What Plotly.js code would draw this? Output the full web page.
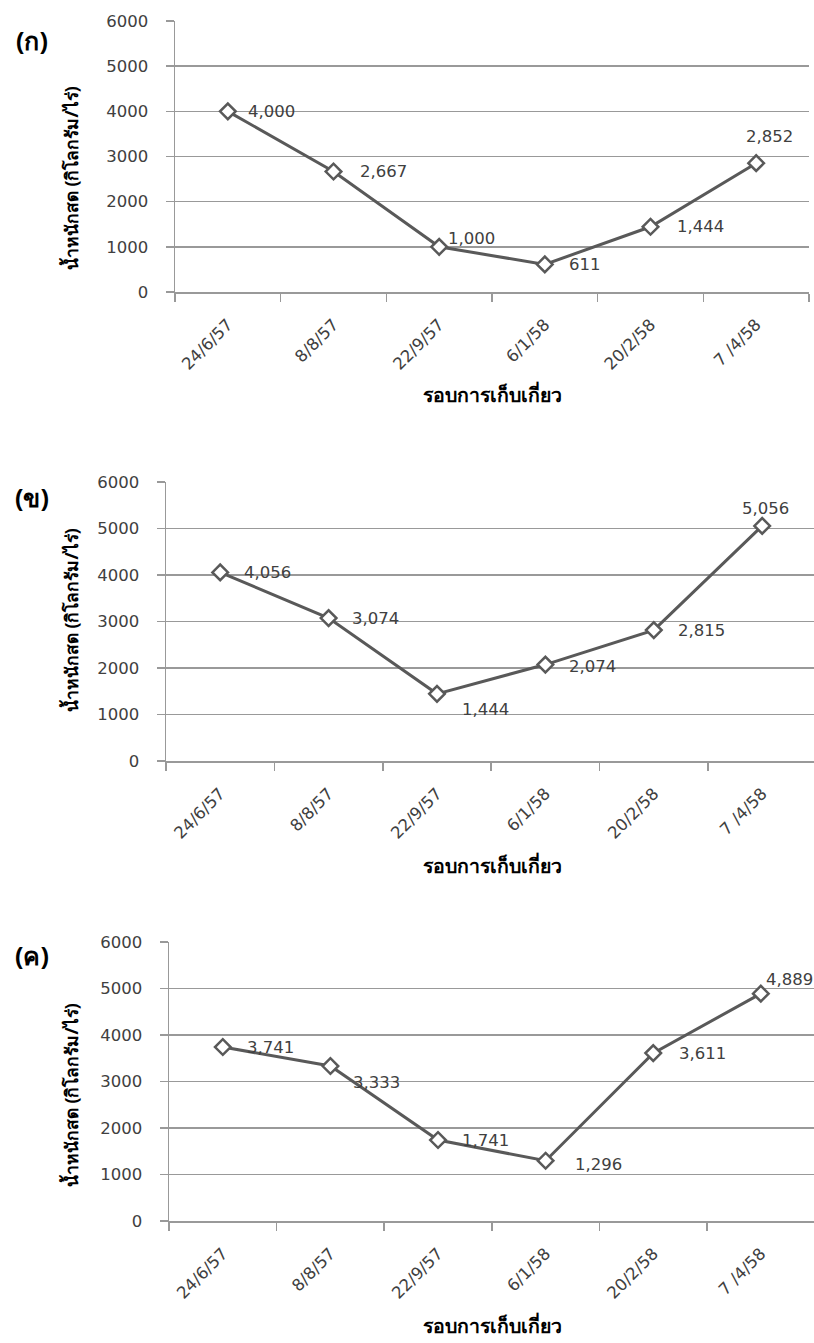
<!DOCTYPE html>
<html><head><meta charset="utf-8">
<script src="https://cdn.plot.ly/plotly-3.0.1.min.js"></script>
<style>html,body{margin:0;padding:0;background:#fff}</style>
</head><body><div id="chart" style="width:814px;height:1343px"></div>
<script>
const categories = ["24/6/57", "8/8/57", "22/9/57", "6/1/58", "20/2/58", "7 /4/58"];
const seriesA = [4000, 2667, 1000, 611, 1444, 2852];
const seriesB = [4056, 3074, 1444, 2074, 2815, 5056];
const seriesC = [3741, 3333, 1741, 1296, 3611, 4889];
const panelLabels = ["(ก)", "(ข)", "(ค)"];
const yTitleText = "น้ำหนักสด (กิโลกรัม/ไร่)";
const xTitleText = "รอบการเก็บเกี่ยว";

// styling / layout (not data)
const W = 814, H = 1343;
const FONT = "DejaVu Sans, sans-serif";
const TFONT = "Noto Sans, DejaVu Sans, sans-serif";
const LINE = "#595959", GRID = "#999999", TXT = "#404040";
const panels = [
  {series: seriesA, left: 175, right: 809, xmax: 5.5, top: 21, bottom: 292, panelY: 40, yTitleY: 178, xTitleY: 394,
   offs: [[18,0,'left'],[24,0,'left'],[7,8,'left'],[22,0,'left'],[24,0,'left'],[13,27,'center']]},
  {series: seriesB, left: 166, right: 814, xmax: 5.478, top: 482, bottom: 761, panelY: 497, yTitleY: 620, xTitleY: 865,
   offs: [[22,0,'left'],[21,0,'left'],[23,-16,'left'],[22,-2,'left'],[22,0,'left'],[3,17,'center']]},
  {series: seriesC, left: 169, right: 814, xmax: 5.494, top: 942, bottom: 1221, panelY: 955, yTitleY: 1095, xTitleY: 1325,
   offs: [[22,0,'left'],[21,-16,'left'],[22,0,'left'],[27,-4,'left'],[24,0,'left'],[3,14,'left']]}
];

const data = [];
const layout = {
  width: W, height: H, margin: {l:0, r:0, t:0, b:0},
  paper_bgcolor: "#fff", plot_bgcolor: "#fff", showlegend: false,
  font: {family: FONT, color: TXT, size: 16},
  annotations: []
};
const fmt = v => v.toLocaleString("en-US");

panels.forEach((p, i) => {
  const n = i + 1;
  const xa = n === 1 ? "x" : "x" + n, ya = n === 1 ? "y" : "y" + n;
  const xk = n === 1 ? "xaxis" : "xaxis" + n, yk = n === 1 ? "yaxis" : "yaxis" + n;
  data.push({
    type: "scatter", mode: "lines+markers", x: categories, y: p.series,
    xaxis: xa, yaxis: ya,
    line: {color: LINE, width: 3},
    marker: {symbol: "diamond", size: 12, color: "#fff", line: {color: LINE, width: 2.5}},
    hoverinfo: "skip", cliponaxis: false
  });
  layout[xk] = {
    domain: [p.left / W, p.right / W], anchor: ya, type: "category",
    showgrid: false, showline: true, linecolor: GRID, linewidth: 1.5,
    ticks: "outside", ticklen: 8, tickcolor: GRID, tickwidth: 1.5, tickson: "boundaries",
    tickangle: -45, tickfont: {size: 16.5, color: TXT, family: FONT}, ticklabelstandoff: 15,
    range: [-0.5, p.xmax], fixedrange: true
  };
  layout[yk] = {
    domain: [1 - p.bottom / H, 1 - p.top / H], anchor: xa,
    range: [0, 6000], tickmode: "array", tickvals: [0,1000,2000,3000,4000,5000,6000],
    ticktext: ["0","1000","2000","3000","4000","5000","6000"],
    showgrid: true, gridcolor: GRID, gridwidth: 1.5, zeroline: false,
    showline: true, linecolor: GRID, linewidth: 1.5,
    ticks: "outside", ticklen: 8, tickcolor: GRID, tickwidth: 1.5,
    tickfont: {size: 16.5, color: TXT, family: FONT}, ticklabelstandoff: 14, fixedrange: true
  };
  p.series.forEach((v, j) => {
    const o = p.offs[j];
    layout.annotations.push({
      xref: xa, yref: ya, x: categories[j], y: v, text: fmt(v), showarrow: false,
      xanchor: o[2], yanchor: "middle", xshift: o[0], yshift: o[1],
      font: {size: 16.5, color: TXT, family: FONT}
    });
  });
  layout.annotations.push({
    xref: "paper", yref: "paper", x: 32 / W, y: 1 - p.panelY / H, text: "<b>" + panelLabels[i] + "</b>",
    showarrow: false, xanchor: "center", yanchor: "middle", font: {size: 25, color: "#000", family: TFONT}
  });
  layout.annotations.push({
    xref: "paper", yref: "paper", x: 71 / W, y: 1 - p.yTitleY / H, text: "<b>" + yTitleText + "</b>",
    showarrow: false, textangle: -90, xanchor: "center", yanchor: "middle", font: {size: 17.5, color: "#000", family: TFONT}
  });
  layout.annotations.push({
    xref: "paper", yref: "paper", x: 492 / W, y: 1 - p.xTitleY / H, text: "<b>" + xTitleText + "</b>",
    showarrow: false, xanchor: "center", yanchor: "middle", font: {size: 19.5, color: "#000", family: TFONT}
  });
});

Plotly.newPlot("chart", data, layout, {displayModeBar: false, staticPlot: true});
</script></body></html>
